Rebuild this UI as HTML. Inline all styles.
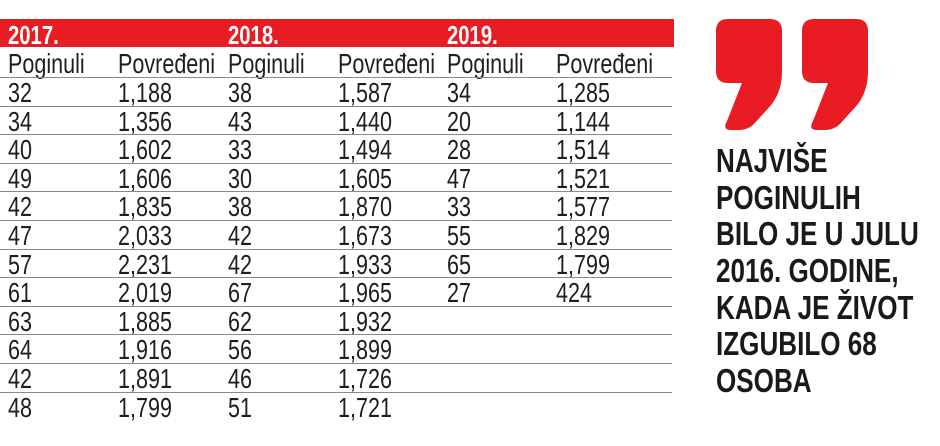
<!DOCTYPE html>
<html><head><meta charset="utf-8"><style>
body{margin:0;width:940px;height:446px;background:#fff;position:relative;overflow:hidden;font-family:"Liberation Sans",sans-serif;color:#1e1e1e}
.bar{position:absolute;left:0;top:19px;width:674px;height:28px;background:#e91c24}
.y{position:absolute;top:19px;color:#fff;font-weight:bold;font-size:26px;line-height:32px;transform:scaleX(0.78);transform-origin:0 0}
.t{position:absolute;font-size:28px;line-height:28px;white-space:nowrap;transform:scaleX(0.77);transform-origin:0 0}
.l{position:absolute;left:0;width:672px;height:1px;background:#8a8a8a}
.q{position:absolute;left:716px;font-weight:bold;font-size:33px;line-height:36px;white-space:nowrap;color:#1a1a1a;transform:scaleX(0.79);transform-origin:0 0}
</style></head><body>
<div class="bar"></div>
<div class="y" style="left:8px">2017.</div>
<div class="y" style="left:228px">2018.</div>
<div class="y" style="left:447px">2019.</div>
<svg width="940" height="446" style="position:absolute;left:0;top:0">
<path fill="#e91c24" d="M728,19 H770 Q782,19 782,31 V72 Q782,90 772,104 L754,124 Q748,130 738,130 H731 Q722,130 727,121 L742,83 H728 Q716,83 716,71 V31 Q716,19 728,19 Z"/>
<path fill="#e91c24" transform="translate(86,0)" d="M728,19 H770 Q782,19 782,31 V72 Q782,90 772,104 L754,124 Q748,130 738,130 H731 Q722,130 727,121 L742,83 H728 Q716,83 716,71 V31 Q716,19 728,19 Z"/>
</svg>
<div id="tbl"></div>
<div class="q" style="top:143px">NAJVIŠE</div>
<div class="q" style="top:180px">POGINULIH</div>
<div class="q" style="top:216px">BILO JE U JULU</div>
<div class="q" style="top:253px">2016. GODINE,</div>
<div class="q" style="top:290px">KADA JE ŽIVOT</div>
<div class="q" style="top:326px">IZGUBILO 68</div>
<div class="q" style="top:363px">OSOBA</div>
<script>
var cols=[8,118,228,338,447,556];
var hdr=["Poginuli","Povređeni","Poginuli","Povređeni","Poginuli","Povređeni"];
var d=[["32","1,188","38","1,587","34","1,285"],["34","1,356","43","1,440","20","1,144"],["40","1,602","33","1,494","28","1,514"],["49","1,606","30","1,605","47","1,521"],["42","1,835","38","1,870","33","1,577"],["47","2,033","42","1,673","55","1,829"],["57","2,231","42","1,933","65","1,799"],["61","2,019","67","1,965","27","424"],["63","1,885","62","1,932","",""],["64","1,916","56","1,899","",""],["42","1,891","46","1,726","",""],["48","1,799","51","1,721","",""]];
var h="";
function row(arr,top){for(var i=0;i<6;i++)if(arr[i])h+='<div class="t" style="left:'+cols[i]+'px;top:'+top+'px">'+arr[i]+'</div>';}
row(hdr,50);
for(var r=0;r<12;r++){var ly=77+r*28.6;h+='<div class="l" style="top:'+Math.round(ly)+'px"></div>';row(d[r],Math.round(ly+2));}
document.getElementById("tbl").innerHTML=h;
</script>
</body></html>
